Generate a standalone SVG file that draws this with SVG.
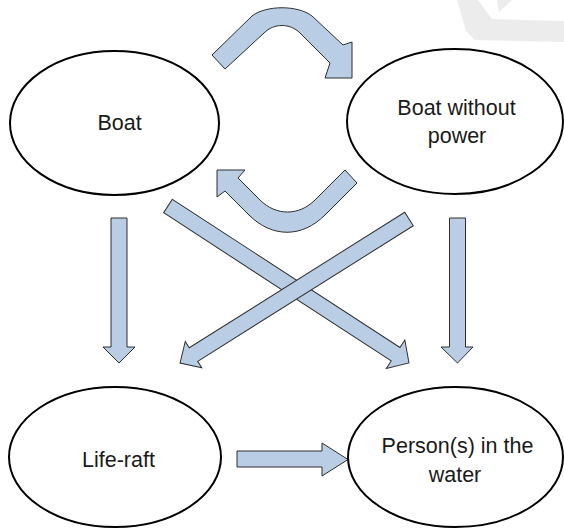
<svg xmlns="http://www.w3.org/2000/svg" width="564" height="529" viewBox="0 0 564 529">
<style>
.node{fill:#ffffff;stroke:#000000;stroke-width:2}
.lbl{font-family:"Liberation Sans",Arial,sans-serif;font-size:21.5px;fill:#1a1a1a;text-anchor:middle}
.arr{fill:#b9cde5;stroke:#2f2f2f;stroke-width:1;stroke-linejoin:miter}
.wm{fill:#ececec}
</style>
<rect width="564" height="529" fill="#ffffff"/>
<g id="watermark">
<polygon class="wm" points="457,0 478,0 492,19 564,21 564,42 475,40 466,31"/>
<polygon class="wm" points="497,0 512,0 499,12"/>
</g>
<g id="connectors">
<path class="arr" d="M212,55 L252,16 C266,5 298,5 312,16 L343,45 L352,42 L352,78 L325,78 L330,63 L300,33 C290,23 274,23 264,33 L225,69 Z"/>
<path class="arr" d="M345,170 L357,183 L325,215 C302,238 272,238 249,215 L225,191 L217,197 L217,170 L245,170 L238,178 L260,200 C276,216 299,216 315,200 Z"/>
<polygon class="arr" points="111,218 127,218 127,347 135,347 119,363 103,347 111,347"/>
<polygon class="arr" points="449.5,218 465.5,218 465.5,347 473,347 457.5,363 441,347 449.5,347"/>
<polygon class="arr" points="237,451 322,451 322,443 348,459.5 322,476 322,467 237,467"/>
<polygon class="arr" transform="translate(168,206) rotate(33.08)" points="0,-8 271.6,-8 271.6,-17 287.6,0 271.6,17 271.6,8 0,8"/>
<polygon class="arr" transform="translate(409,219) rotate(147.83)" points="0,-8 254.6,-8 254.6,-15.5 270.5,0 254.6,15.5 254.6,8 0,8"/>
</g>
<g id="boat">
<ellipse class="node" cx="114.5" cy="123" rx="104.5" ry="72"/>
<text class="lbl" x="119.5" y="130">Boat</text>
</g>
<g id="boat-without-power">
<ellipse class="node" cx="455" cy="121.5" rx="108" ry="72.5"/>
<text class="lbl" x="456.5" y="115">Boat without</text>
<text class="lbl" x="457" y="143">power</text>
</g>
<g id="life-raft">
<ellipse class="node" cx="115" cy="457" rx="106" ry="70"/>
<text class="lbl" x="118.5" y="467">Life-raft</text>
</g>
<g id="persons-in-water">
<ellipse class="node" cx="455.5" cy="457" rx="107.5" ry="70"/>
<text class="lbl" x="457.5" y="453">Person(s) in the</text>
<text class="lbl" x="455" y="482">water</text>
</g>
</svg>
